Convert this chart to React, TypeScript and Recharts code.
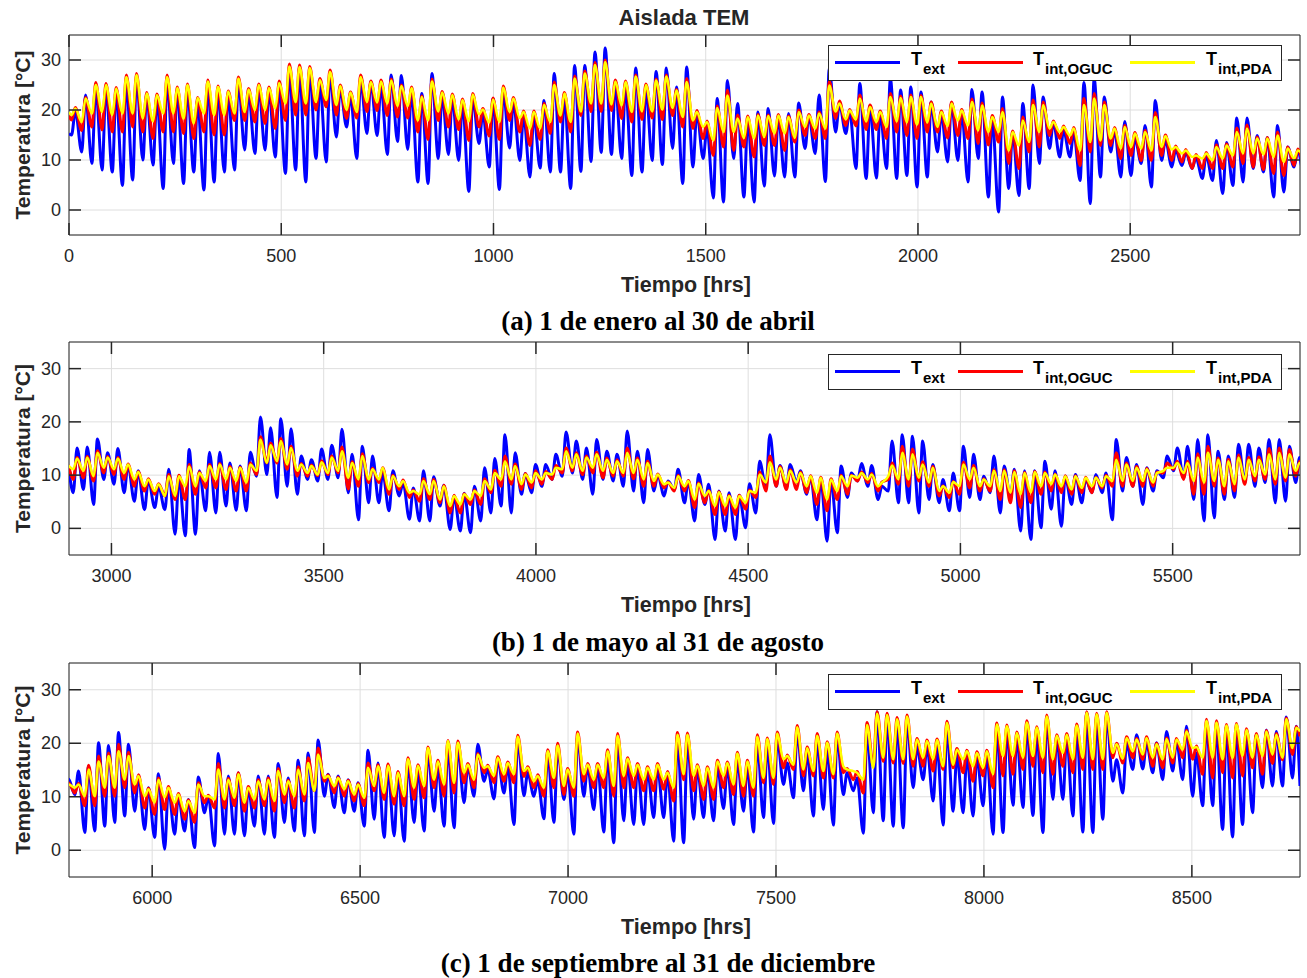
import React from 'react';
import { LineChart, Line, XAxis, YAxis, CartesianGrid, ReferenceArea, Legend } from 'recharts';

const SANS = "'Liberation Sans', Arial, Helvetica, sans-serif";
const SERIF = "'Liberation Serif', 'Times New Roman', Times, serif";
const AXIS = '#262626';

// Daily extremes (day 0 = 1 January). Troughs ~06h, peaks ~15h.
// ---- (a) days 0..120
const extMaxA = [
  19.8,23,24.5,24.5,23.8,26,26.5,23,22.5,26, 24,24.5,22,25.2,24,23.2,25.8,23.8,24.5,24, 25,28.2,28.3,28,25.5,27.2,24.3,23,26,25.7,
  25,27,26.9,24,23.3,27.3,23,22.5,21.5,22.5, 19.5,22.3,24,21.8,19,19,21.9,27.3,23,28.9, 28.9,31.6,32.4,25.2,25,28.4,24.5,27.7,28.4,24.6,
  28.6,19.6,16.5,22.3,25.9,21.3,18.3,19.6,20.3,18.9, 19.3,21.4,18.9,23,28.3,21.3,19.9,25.3,20.9,19.6, 26.3,24,24.6,23.6,21.6,19.3,21.5,19.6,24.1,23.6, 18.5,
  22.6,15.6,21.3,25,22.6,17.6,16,15.5,25.5,26.3, 22.6,16,17.7,14.5,16.9,21.9,14,12,11.5,10.5, 11,13.9,13.5,18.4,18.4,14.9,14.5,16.9,12.6,12,
];
const extMinA = [
  15,11.6,9.3,8,7.6,4.9,6,10,9,4.3, 9.3,5.3,7.6,4,5.6,7.6,8,12,11.3,12, 10.6,7.3,8,5.6,10.3,9.6,14.6,16.6,10.3,15.3,
  14.9,11.1,13.7,12.1,5.6,5.3,10.3,11.1,9.9,3.7, 13.3,8.6,4.1,12.4,9.9,6.6,8.4,7.6,7.6,4.3, 7.7,9.7,11.5,11.1,10.3,6.9,7.6,9.9,9.1,12.3,
  5.3,8.6,10.3,2.4,1.6,10.3,2.6,1.6,4.8,6.8, 6.6,6.6,12.3,11.3,5.7,15.6,15.3,8.3,6.3,6.4, 8.3,6.3,6.9,4.6,6.6,11.6,9.6,9.9,5.6,10.3, 2.6,
  -0.4,4.3,2.9,4.3,9.3,12.3,10.6,10.6,5.9,1.3, 6.6,11.6,6.6,6.9,9.3,4.6,9.9,8.6,8.9,8.3, 6.3,5.9,3.3,4.9,5.6,8.3,7.6,2.6,3.6,8.6,
];
const ogucMaxA = [
  20.5,22.5,25.5,25.3,24.5,27,27.3,23.5,23.2,27, 24.6,25.2,22.5,26,24.8,23.8,26.6,24.3,25.2,24.6, 25.8,29.2,29,28.7,26.3,28,25,23.6,27,25.8,
  26,26.2,25,24.6,22.8,26.2,23.7,23.2,22.2,23.3, 20.3,22.4,24.8,22.5,19.8,19.8,21.3,25.6,23.5,26.8, 27.8,29.5,30,26,25.8,27,25.2,26.2,27,24.1,
  26.3,19.9,17.8,20.8,24,19,18.8,19.1,19,19.1, 18.8,20,19.1,19.6,25.8,21.8,20.1,23,21,19.8, 23.3,22.8,23,22.9,21.6,19.8,21.6,20.1,22.2,21.4, 18.9,
  20.3,15.8,18.6,22,21.6,17.8,16.8,16.5,22.3,23.3, 21.6,16.5,16.9,15.5,15.9,19.5,15,12.8,12.1,11.1, 11.5,13,13.2,16.4,17,14.6,14.5,15.6,12.6,12.2,
];
const ogucMinA = [
  18,15.9,16.6,16,15.6,15.6,16.6,15.6,14.3,15.6, 15.6,15.3,14.3,15.6,15,15,17.9,17.9,17.6,17.3, 16.3,17.9,19,19,20,20.6,19,18.3,18.4,19.7,
  19.9,18.9,18.6,18.4,15.6,14.1,17.9,16.6,16.1,13.9, 16.6,14.8,14.1,17.9,15.6,12.9,14.1,15.3,17.6,15.6, 18.9,19.7,19.7,19.9,18.3,17.6,18.1,18.4,18.1,18.9,
  16.6,16.3,14.3,10.9,12.6,11.9,12.6,10.6,12.9,12.9, 11.9,13.6,14.9,14.3,14.3,18.3,16.9,16.8,16.1,16.1, 14.3,15.6,14.9,14.3,15.6,15.6,14.4,14.9,14.3,13.3, 13,
  13.6,9.3,8.3,11.6,12.6,14.9,14.3,13.3,8.9,11.6, 12.9,12.9,10.3,10.9,9.9,9.9,10.9,9.9,9.6,8.3, 8.3,8.3,8.3,8.6,9.3,8.6,8.1,7.3,6.9,8.9,
];
const pdaMaxA = [
  20.3,22.3,25,25,24.3,26.6,27,23.3,23,26.6, 24.4,25,22.4,25.7,24.6,23.7,26.3,24.1,25,24.4, 25.4,28.7,28.6,28.4,26,27.6,24.8,23.5,26.6,25.6,
  25.7,25.9,24.8,24.4,22.6,25.7,23.5,23,22,23.1, 20.1,22.1,24.5,22.3,19.6,19.6,21,25,23.3,26.3, 27.3,29,29.6,25.7,25.6,26.7,25,25.9,26.7,23.9,
  25.6,19.6,17.6,20.4,22.9,18.3,18.6,18.9,18.8,18.9, 18.6,19.6,18.9,19.3,24.9,21.3,19.9,22.3,20.6,19.6, 22.6,22.4,22.6,22.6,21.3,19.6,21.3,19.9,21.6,20.9, 18.6,
  19.6,15.6,17.9,21,21,17.6,16.6,16.3,21,22.3, 21,16.3,16.6,15.3,15.6,18.6,14.8,12.6,11.9,10.9, 11.3,12.6,12.9,15.6,16.3,14.3,14.3,14.9,12.3,11.9,
];
const pdaMinA = [
  19,17.6,19.3,19.6,19,19.3,19.3,18.3,17.7,19.3, 19.3,18.3,17.3,19.3,19,19,19.3,19.6,20,20, 20.3,21.3,21.6,21.3,21.6,22,21,20,19.6,21.6,
  21.5,21.3,20.8,20.8,17.9,17.9,19.7,19.3,18.1,17.7, 19.1,17.5,17.6,19.6,18.4,16.3,16.3,17.6,18.9,17.6, 19.7,21.3,21.3,21.1,20.9,19.6,19.7,19.7,20.1,20.4,
  18.6,17.9,16.6,13.9,15.6,15.6,14.4,14.3,14.6,15.3, 15.3,14.4,16.6,16.3,16.3,19.7,18.1,18.1,17.7,17.6, 16.6,17.7,17.5,17.1,17.5,16.6,16.8,17.9,16.9,15.9, 15.6,
  15.6,11.9,12.9,13.6,15.6,16.3,15.6,14.9,11.9,13.6, 13.9,14.3,12.3,12.6,12.3,11.9,12.6,12.1,11.3,10.6, 10.3,9.9,10.3,10.9,11.3,11.3,11.1,10.6,9.6,10.3,
];

// ---- (b) days 121..241
const extMaxB = [
  15.1,15.3,16.8,14.2,15,12,10.8,9.2,7.9,11.1, 9.7,14.8,10.8,14.3,14.3,12.3,11.7,14.3,20.9,18.9, 20.6,18.7,13.6,12.9,14.9,15.6,18.6,13.9,15.4,13.6,
  10.5,10.8,8.6,7.6,10.8,9.7,8.1,6.1,6.6,7.9, 11.4,13.1,17.6,14.2,10.3,12,12,13.9,18.1,16.4, 15.1,16.7,14.5,13.9,18.3,14.5,14.8,10.1,8.9,11.1,
  8.9,10.1,8.3,7,6.7,6.2,8.4,12.6,17.6,11.8, 12,10.8,9.8,9.2,9.2,11.7,10.4,12.2,11.8,7.9, 16.4,17.6,17.3,16.4,12,9.2,10.4,15.4,13.9,9.8,
  13.6,11.7,11.1,10.8,10.8,12.6,10.8,9.8,10.1,9.2, 10.1,10.4,16.7,13.3,12,11.4,10.8,13.6,15.1,15.4, 16.7,17.6,14.5,13.6,15.8,15.8,15.1,16.7,16.7,15.4, 13.3,
];
const extMinB = [
  6.7,7.3,4.5,9.2,8.3,6.7,5.1,3.5,3.9,3.5, -1.1,-1.4,-1.1,3.3,2.9,4.2,3.4,3.3,9.8,10.1, 5.8,7.9,6.4,9.2,8.9,9.2,9.5,6.7,1.6,4.8,
  4.8,3.3,6.1,1.7,1.4,1.4,4.2,-0.2,-0.5,-0.8, 1.4,2.9,4.2,2.9,6.4,6.7,7.9,9.2,9.8,10.4, 9.2,6.4,9.2,8.9,7.9,7,4.8,7,6.1,7.3,
  4.8,1.4,4.5,-2.1,-0.5,-2.1,0.1,2.9,7.6,7.9, 7.6,8.6,6.4,1.6,-2.4,-0.8,5.8,8.9,7.9,5.4, 7,4.8,4.8,2.9,5.4,4.8,3.3,3.3,5.8,5.4,
  6.7,2.9,5.8,-0.5,-2.1,0.1,3.6,0.4,4.5,4.8, 6.7,6.7,1.6,7,7.9,4.5,7,9.5,10.8,9.5, 5.4,1.4,2,5.4,5.8,8.6,7.9,8.6,4.8,5.1, 8.6,
];
const ogucMaxB = [
  13.3,13.5,14.6,13.5,13.3,12.1,10.7,9.3,8.4,10.1, 10,12,10.6,12,12.2,11.6,11.5,12.3,17.2,16, 16.9,15.4,12.2,11.9,12.7,13.6,15.3,12.5,14,11.3,
  11.4,10,9.1,7.2,9.3,9.2,8.1,6.2,6.5,7.2, 9.3,10.9,13.6,12.1,10.3,10.8,10.7,11.8,15.1,14.2, 13.6,14.3,13.2,12.9,15.1,13.2,12.6,10.2,8.7,10,
  9,8.5,7.1,6.9,6.2,6.2,7.2,10.6,13.6,11.6, 11,10.6,9.9,9.6,9.3,10,10,10.6,10.3,8.7, 12.3,15.4,14.9,12.5,11.6,8,8.8,12.4,11.8,9.3,
  11,11,10.8,10.5,10.7,10.6,10.2,9.9,9.9,9.6, 9.6,10,14.2,12.3,11.6,11.3,10.6,12.3,12.6,12.6, 14,15.4,13.2,13,13.8,13.3,13.4,15,15.1,14.8, 12.6,
];
const ogucMinB = [
  9.2,9.5,8.9,10.4,10.1,9.2,7.9,7,6.4,6.1, 5.4,5.4,6.4,7.6,7.6,7.3,7,7,10.1,12.3, 12.3,11.1,9.8,9.8,9.9,10.1,10.4,7.4,7.9,8.6,
  8.6,6.4,7.3,5.8,5.1,5.4,4.8,2.9,2.9,4.5, 4.5,6.7,7.9,8.3,7.3,7.6,8.3,9.2,10.4,10.8, 10.1,10.4,9.5,9.8,9.8,9.3,7.9,7.9,7.6,7,
  7,3.9,4.8,2.6,2.6,2.6,3.6,5.8,7,7.9, 7.3,7.3,6.7,4.5,3.3,5.4,6.4,8.9,8.6,7, 9.2,8.3,7.9,8.9,7.9,6.1,5.8,6.4,7.6,7,
  7,5.4,4.8,3.9,4.8,6.4,7,6.7,6.4,6.7, 6.7,7.6,7.9,7.9,7.9,7.9,7.9,10.4,11.1,9.2, 6.4,6.4,7.9,6.4,7,8.3,8.9,9.2,8.3,8.9, 9.8,
];
const pdaMaxB = [
  13.1,13.3,14.2,13.3,13.1,12,10.6,9.2,8.3,9.8, 9.8,11.6,10.4,11.7,12,11.4,11.4,12,16.7,15.6, 16.4,15.1,12,11.7,12.4,13.3,14.5,12.3,13.6,11.1,
  11.4,9.8,8.9,7,8.9,8.9,7.9,6.1,6.4,7, 8.9,10.4,12.6,11.7,10.1,10.4,10.4,11.4,14.5,13.9, 13.3,13.9,12.9,12.6,14.2,12.9,12.3,10.1,8.6,9.8,
  8.9,8.4,7,6.8,6.1,6.1,7,10.1,12.4,11.4, 10.8,10.4,9.8,9.5,9.2,9.8,9.9,10.4,10.1,8.6, 11.8,14.2,13.9,12,11.4,7.9,8.7,12,11.4,9.2,
  10.8,10.8,10.6,10.4,10.6,10.4,10.1,9.8,9.8,9.5, 9.5,9.8,12.9,12,11.4,11.1,10.4,11.4,12.3,12.3, 13.3,14.2,12.9,12.6,13.3,12.9,12.9,13.9,14.2,13.9, 12.3,
];
const pdaMinB = [
  11.1,10.8,9.8,11.4,11.1,10.4,9.2,7.9,7,6.1, 6.1,7.9,7.9,8.9,9.2,9.2,8.9,8.6,10.8,12.3, 12.6,12,10.8,10.4,10.1,10.4,10.8,9.5,9.2,9.2,
  9.2,7.3,7.9,6.7,6.4,6.4,5.4,4.2,4.5,5.4, 6.1,7.3,9.2,9.2,8.3,8.6,9.2,10.1,11.1,11.4, 10.8,11.4,10.8,10.4,10.4,10.4,9.2,8.9,8.3,7.6,
  7.9,5.4,6.1,4.2,4.2,3.9,4.8,6.7,8.6,9.2, 8.6,8.6,7.9,6.7,5.4,7,7.9,9.5,9.2,7.9, 9.8,9.2,9.2,9.5,8.6,7,6.7,7.9,9.2,7.9,
  7.9,7,6.7,6.4,6.7,7.9,8.3,7.9,7.3,7.6, 7.9,7.9,8.9,8.9,8.9,8.9,8.6,10.8,11.4,10.4, 8.9,8.6,8.9,7.9,8.3,9.2,9.8,10.1,9.2,9.5, 10.8,
];

// ---- (c) days 242..364
const extMaxC = [
  14.8,15.7,20.1,19.6,22,19.8,13.9,11.7,14.3,11.7, 10.1,9.5,13.7,10.1,18.1,13.9,14.5,11.7,13.9,13.9, 16.2,13.5,16.8,18.2,20.6,14.2,13.9,13.2,12.6,18.7, 16.3,
  15.1,14.2,16.3,15.1,18.5,15.7,19.4,19.3,15.7,19.8, 15.1,17,15.8,20.7,14.5,13.2,18.2,19.1,14.5,21.3, 15.7,16,18.2,21,16.6,15.8,15.1,15.7,14.5,21.3,
  20.7,15.4,15.1,15.7,15.7,16.9,15.7,20,19.7,21, 16.3,22.2,18.2,20.7,19.1,21.3,14.5,13.5,22.5,25.9, 25.3,24.4,24.4,19.4,19.4,19.7,22.9,17.9,17.6,17.6, 18.2,
  22.9,22.6,21.3,23.5,22.6,24.7,21,21.3,22.9,25.7, 25,25.3,16.9,20.1,21.6,20.1,20.1,22.2,20.4,23.2, 18.2,23.5,23.2,23.2,23.2,21.9,21.6,22.5,22.2,24.9, 23.2,
];
const extMinC = [
  10.4,3.3,3.6,4.5,5.2,6.4,7.3,3.9,2.4,0.2, 3,3.6,0.5,7,0.8,3,3,2.7,4.5,3, 2.4,5.2,3.6,2.7,3.3,10.1,8,7,7.3,4.5, 5.8,
  2.4,2.7,1.7,5.2,3.6,7.3,4.5,4.2,8.9,10.1, 12.9,9.6,10.7,4.8,10.2,10.1,5.9,5.2,9.5,3, 10.1,7.6,3.4,1.4,5.5,4.8,4.8,6.1,6.1,1.7,
  1.4,5.8,6.1,5.5,7.8,4.8,7.3,3.4,6.1,5, 12.3,9.8,11.1,6.4,7.6,4.7,10.4,11.1,3.2,7, 5.5,4.5,4.2,11.7,13.2,9.2,4.7,7.3,7,6.4, 8.3,
  3,3.3,8.4,8,6.5,3.3,9.5,9.5,6.4,3.4, 3.3,5.8,12.9,10.7,15.1,15.2,14.5,13.2,14.8,13.2, 10.1,8.3,8.3,3.9,2.5,4.8,7,11.7,12,12, 13.5,
];
const ogucMaxC = [
  12.5,15.9,17.6,18.2,19.8,18.3,14.1,11.6,13.5,11.9, 10.6,9.4,12.6,10.3,16.2,13.4,14.5,11.9,13.2,13.5, 15.3,13.1,15.6,17.3,19.1,14.1,13.7,13.1,12.5,16.3, 16,
  16.1,14.7,17.3,16,19.3,16.8,20.5,20.4,16.2,18.1, 15.9,17.5,16.5,21.5,15.6,14.1,18.8,20,15.3,22.1, 16.2,16.2,18.8,21.8,17.3,16.2,15.6,16.2,14.7,22,
  21.9,16,15.6,16.8,16.5,18.3,16.8,21.6,21,22.1, 17.8,23.3,19.3,21.8,20.3,22.1,15.3,14.7,23.9,25.9, 25.6,24.8,25.3,20.9,20.6,20.8,24.1,19,18.7,18.4, 18.7,
  23.8,23.4,22.1,24.2,23.1,25.3,21.6,21.8,23.6,25.9, 25.6,25.9,20,21.2,20.9,21.2,20,21,20.9,22.4, 19.5,24.5,24.2,23.5,23.7,22.7,21.8,22.4,21.8,24.7, 23.1,
];
const ogucMinC = [
  10.7,8.3,8.3,10.1,10.1,11.7,10.7,7.9,6.7,7.6, 6.7,5.8,5.2,8.9,7.9,7.9,8.3,7.3,7.9,8.3, 7.3,8.9,7.9,9.2,11.1,12.9,10.7,10.1,9.2,8.3, 11.1,
  9.5,8.6,8.3,9.5,9.8,11.7,10.1,10.7,12.6,11.7, 14.5,12.6,12.9,12.6,13.8,11.7,10.1,11.7,10.4,10.1, 12.9,11.7,11.7,10.1,11.7,11.7,11.1,11.1,11.4,9.2,
  13.2,11.1,9.5,9.5,11.7,10.4,10.1,10.1,12.6,12.3, 15.4,15.1,13.9,13.9,13.5,13.5,14.5,13.2,10.7,15.7, 16.6,16.3,16.2,15.7,15.7,14.8,15.1,15.4,14.5,12.9, 13.9,
  11.7,13.9,14.2,15.1,15.7,14.5,14.2,15.7,14.5,15.1, 15.1,15.1,17.3,16.3,17.3,17,15.7,15.4,16.3,17.3, 17,14.2,13.5,14.5,13.5,13.9,15.4,14.2,16.2,16.9, 17.9,
];
const pdaMaxC = [
  12.3,15.1,16.6,17.6,18.5,17.6,13.9,11.4,13.2,11.7, 10.4,9.2,12.3,10.1,15.1,13.2,14.2,11.7,12.9,13.2, 14.8,12.9,15.1,16.3,17.9,13.9,13.5,12.9,12.3,15.4, 15.7,
  15.8,14.5,17,15.8,19.1,16.6,20.4,20.1,16,17.9, 15.7,17.3,16.3,21.2,15.4,13.9,18.5,19.6,15.1,21.8, 16,16,18.5,21.4,17.1,16,15.4,16,14.5,21.6,
  21.6,15.8,15.4,16.6,16.3,18.1,16.6,21.2,20.8,21.8, 17.6,23,19.1,21.4,20.1,21.8,15.1,14.5,23.4,25.5, 25.3,24.5,25,20.7,20.4,20.6,23.8,18.8,18.5,18.2, 18.5,
  23.5,23.2,21.9,23.9,22.9,25,21.4,21.6,23.3,25.7, 25.4,25.7,19.8,21,20.7,21,19.8,20.8,20.7,22.2, 19.3,24.2,23.9,23.3,23.5,22.5,21.6,22.2,21.6,24.5, 22.9,
];
const pdaMinC = [
  11.7,10.1,10.1,11.7,11.7,13.2,12.3,10.1,8.9,9.9, 8.9,7.3,7,10.1,9.5,9.5,9.8,8.9,9.5,9.5, 9.2,10.4,10.1,10.4,11.1,13.5,12,11.4,10.4,9.8, 12,
  10.7,10.1,10.1,11.7,12,13.2,12.3,12.6,14.5,13.2, 15.4,13.9,14.2,14.2,14.8,12.9,11.7,13.5,12,11.7, 14.2,13.2,13.5,12,13.9,13.9,13.2,13.2,13.2,11.7,
  14.2,13.9,12,11.7,13.9,12.3,12,11.7,13.5,13.5, 17,16,15.1,14.8,14.8,14.2,15.7,14.8,13.2,15.4, 17.3,17,17,17,17.3,17,15.7,16,17,15.7, 15.4,
  14.2,17.6,17.6,17.3,17.6,17.3,17,18.2,17,17.3, 17,17,18.2,17.1,18.5,17.9,17.3,17,17.3,18.8, 19.1,17.3,17.3,17,17.3,17.6,17.3,17.6,17.9,17.3, 19.1,
];

// values at the very first and last hour of the year
const startValues = { ext: 15.3, oguc: 18.9, pda: 19.6 };
const endValues = { ext: 12, oguc: 21.3, pda: 22.2 };

const xTicksA = [0, 500, 1000, 1500, 2000, 2500];
const xTicksB = [3000, 3500, 4000, 4500, 5000, 5500];
const xTicksC = [6000, 6500, 7000, 7500, 8000, 8500];
const yTicks = [0, 10, 20, 30];
const captions = ['(a) 1 de enero al 30 de abril', '(b) 1 de mayo al 31 de agosto', '(c) 1 de septiembre al 31 de diciembre'];

const extMax = [...extMaxA, ...extMaxB, ...extMaxC];
const extMin = [...extMinA, ...extMinB, ...extMinC];
const ogucMax = [...ogucMaxA, ...ogucMaxB, ...ogucMaxC];
const ogucMin = [...ogucMinA, ...ogucMinB, ...ogucMinC];
const pdaMax = [...pdaMaxA, ...pdaMaxB, ...pdaMaxC];
const pdaMin = [...pdaMinA, ...pdaMinB, ...pdaMinC];

const TROUGH_HOUR = 6;
const PEAK_HOUR = 15;
const rows: any[] = [{ h: 0, ...startValues }];
extMin.forEach((_, d) => {
  rows.push({ h: 24 * d + TROUGH_HOUR, ext: extMin[d], oguc: ogucMin[d], pda: pdaMin[d] });
  rows.push({ h: 24 * d + PEAK_HOUR, ext: extMax[d], oguc: ogucMax[d], pda: pdaMax[d] });
});
rows.push({ h: 8760, ...endValues });

const PLOT_W = 1231;

const xTick = (plotH: number) => (p: any) => {
  const { x, y, payload } = p;
  return (
    <g>
      <line x1={x} x2={x} y1={y} y2={y - 12} stroke={AXIS} strokeWidth={1.5} />
      <line x1={x} x2={x} y1={y - plotH} y2={y - plotH + 12} stroke={AXIS} strokeWidth={1.5} />
      <text x={x} y={y + 27} textAnchor="middle" fontSize={18} fill={AXIS} fontFamily={SANS}>{payload.value}</text>
    </g>
  );
};

const yTick = (p: any) => {
  const { x, y, payload } = p;
  return (
    <g>
      <line x1={x} x2={x + 12} y1={y} y2={y} stroke={AXIS} strokeWidth={1.5} />
      <line x1={x + PLOT_W - 12} x2={x + PLOT_W} y1={y} y2={y} stroke={AXIS} strokeWidth={1.5} />
      <text x={x - 8} y={y + 6} textAnchor="end" fontSize={18} fill={AXIS} fontFamily={SANS}>{payload.value}</text>
    </g>
  );
};

const XLabel = ({ ly }: any) => (
  <text x={686} y={ly} textAnchor="middle" fontSize={21.5} fontWeight="bold" fill={AXIS} fontFamily={SANS}>Tiempo [hrs]</text>
);
const YLabel = ({ cy }: any) => (
  <text transform={`translate(22,${cy}) rotate(-90)`} textAnchor="middle" dominantBaseline="central" fontSize={21} fontWeight="bold" fill={AXIS} fontFamily={SANS}>Temperatura [°C]</text>
);

const LegendBox = () => (
  <svg width={454} height={36} style={{ display: 'block' }}>
    <rect x={0.5} y={0.5} width={453} height={35} fill="#ffffff" stroke={AXIS} strokeWidth={1} />
    <line x1={7} x2={72} y1={17.5} y2={17.5} stroke="#0000ff" strokeWidth={3} />
    <text x={83} y={20} fontSize={18} fontWeight="bold" fontFamily={SANS} fill="#000">T</text>
    <text x={95} y={29} fontSize={15} fontWeight="bold" fontFamily={SANS} fill="#000">ext</text>
    <line x1={130} x2={195} y1={17.5} y2={17.5} stroke="#ff0000" strokeWidth={3} />
    <text x={205} y={20} fontSize={18} fontWeight="bold" fontFamily={SANS} fill="#000">T</text>
    <text x={217} y={29} fontSize={15} fontWeight="bold" fontFamily={SANS} fill="#000">int,OGUC</text>
    <line x1={302} x2={367} y1={17.5} y2={17.5} stroke="#ffff00" strokeWidth={3} />
    <text x={378} y={20} fontSize={18} fontWeight="bold" fontFamily={SANS} fill="#000">T</text>
    <text x={390} y={29} fontSize={15} fontWeight="bold" fontFamily={SANS} fill="#000">int,PDA</text>
  </svg>
);

type PanelProps = {
  top: number; height: number; plotTop: number; plotH: number;
  domain: [number, number]; ticks: number[]; legendTop: number;
};

function Panel({ top, height, plotTop, plotH, domain, ticks, legendTop }: PanelProps) {
  const xAxisH = height - plotTop - plotH;
  return (
    <div style={{ position: 'absolute', left: 0, top, width: 1307, height }}>
      <LineChart width={1307} height={height} data={rows} margin={{ top: plotTop, right: 7, bottom: 0, left: 0 }}>
        <CartesianGrid stroke="#dedede" strokeWidth={1} />
        <XAxis
          dataKey="h" type="number" domain={domain} ticks={ticks} allowDataOverflow interval={0}
          axisLine={false} tickLine={false} tickSize={0} tickMargin={0} height={xAxisH}
          tick={xTick(plotH)} label={<XLabel ly={plotTop + plotH + 57} />}
        />
        <YAxis
          type="number" domain={[-5, 35]} ticks={yTicks} allowDataOverflow interval={0} width={69}
          axisLine={false} tickLine={false} tickSize={0} tickMargin={0}
          tick={yTick} label={<YLabel cy={plotTop + plotH / 2} />}
        />
        <Line dataKey="ext" type="monotone" stroke="#0000ff" strokeWidth={3} dot={false} activeDot={false} isAnimationActive={false} />
        <Line dataKey="oguc" type="monotone" stroke="#ff0000" strokeWidth={3} dot={false} activeDot={false} isAnimationActive={false} />
        <Line dataKey="pda" type="monotone" stroke="#ffff00" strokeWidth={2.5} dot={false} activeDot={false} isAnimationActive={false} />
        <ReferenceArea x1={domain[0]} x2={domain[1]} y1={-5} y2={35} fill="#ffffff" fillOpacity={0} stroke={AXIS} strokeWidth={1} />
        <Legend
          align="center" verticalAlign="middle" layout="horizontal"
          content={() => <LegendBox />}
          wrapperStyle={{ left: 828, top: legendTop, width: 454, height: 36 }}
        />
      </LineChart>
    </div>
  );
}

const captionStyle = (cy: number): React.CSSProperties => ({
  position: 'absolute', left: 0, width: 1316, top: cy - 17, height: 34, lineHeight: '34px',
  textAlign: 'center', fontFamily: SERIF, fontWeight: 'bold', fontSize: 27, color: '#000',
});

export default function App() {
  return (
    <div style={{ position: 'absolute', left: 0, top: 0, width: 1307, height: 978, background: '#ffffff', overflow: 'hidden' }}>
      <Panel top={0} height={300} plotTop={35} plotH={200} domain={[0, 2900]} ticks={xTicksA} legendTop={45} />
      <Panel top={300} height={320} plotTop={42} plotH={213} domain={[2900, 5800]} ticks={xTicksB} legendTop={54} />
      <Panel top={620} height={320} plotTop={43} plotH={214} domain={[5800, 8760]} ticks={xTicksC} legendTop={54} />
      <div style={{ position: 'absolute', left: 0, width: 1368, top: 5, height: 26, lineHeight: '26px', textAlign: 'center', fontFamily: SANS, fontWeight: 'bold', fontSize: 22, color: AXIS }}>Aislada TEM</div>
      <div style={captionStyle(321)}>{captions[0]}</div>
      <div style={captionStyle(642)}>{captions[1]}</div>
      <div style={captionStyle(963)}>{captions[2]}</div>
    </div>
  );
}
